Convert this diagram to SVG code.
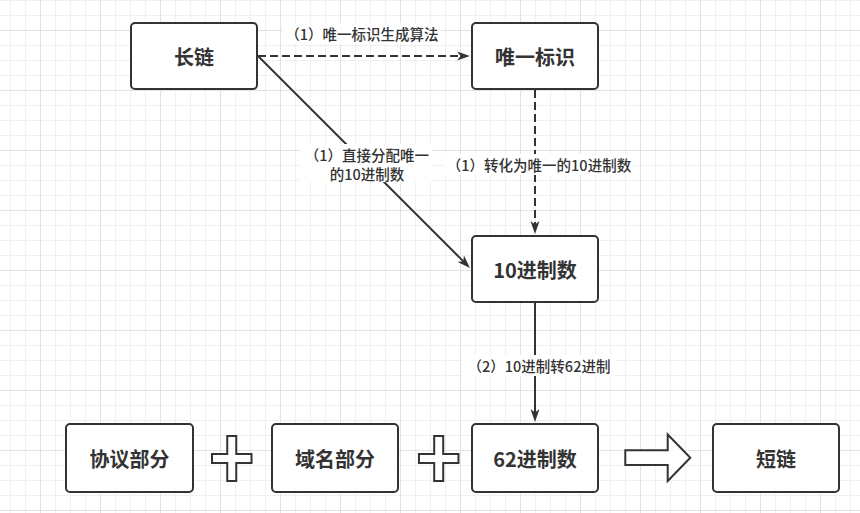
<svg xmlns="http://www.w3.org/2000/svg" width="860" height="513" viewBox="0 0 860 513">
  <style>
    .box { fill: #ffffff; stroke: #333333; stroke-width: 2; }
    .shape { fill: #ffffff; stroke: #333333; stroke-width: 2; stroke-linejoin: miter; }
    .ntext { font-family: "Noto Sans CJK SC", "Liberation Sans", sans-serif; font-size: 20px; font-weight: bold; fill: #333333; text-anchor: middle; dominant-baseline: central; }
    .ltext { font-family: "Noto Sans CJK SC", "Liberation Sans", sans-serif; font-size: 14.5px; font-weight: 500; fill: #333333; text-anchor: middle; dominant-baseline: central; }
    .edge { fill: none; stroke: #333333; stroke-width: 2; }
    .dashed { stroke-dasharray: 8 4; }
    .lbg { fill: #ffffff; }
  </style>
  <defs>
    <pattern id="minor" patternUnits="userSpaceOnUse" x="10" y="0" width="15" height="15">
      <rect x="0" y="0" width="1" height="15" fill="#f0f0f0"/>
      <rect x="0" y="0" width="15" height="1" fill="#f0f0f0"/>
    </pattern>
    <pattern id="major" patternUnits="userSpaceOnUse" x="40" y="30" width="60" height="60">
      <rect x="0" y="0" width="1" height="60" fill="#e2e2e2"/>
      <rect x="0" y="0" width="60" height="1" fill="#e2e2e2"/>
    </pattern>
    <marker id="arr" markerUnits="userSpaceOnUse" viewBox="-5 -6 16 12" markerWidth="16" markerHeight="12" refX="0" refY="0" orient="auto">
      <path d="M9,0 L-4,-4.5 L-0.5,0 L-4,4.5 Z" fill="#333333"/>
    </marker>
  </defs>

  <rect x="0" y="0" width="860" height="513" fill="#ffffff"/>
  <rect x="0" y="0" width="860" height="513" fill="url(#minor)"/>
  <rect x="0" y="0" width="860" height="513" fill="url(#major)"/>

  <g id="connectors">
    <path class="edge dashed" d="M258,56 L461,56" marker-end="url(#arr)"/>
    <path class="edge" d="M258,56 L463.6,261.6" marker-end="url(#arr)"/>
    <path class="edge dashed" d="M535,90 L535,225" marker-end="url(#arr)"/>
    <path class="edge" d="M535,303 L535,413" marker-end="url(#arr)"/>

    <g id="label-gen">
      <rect class="lbg" x="283" y="23" width="158" height="21"/>
      <text class="ltext" x="362" y="33">（1）唯一标识生成算法</text>
    </g>
    <g id="label-direct">
      <rect class="lbg" x="300" y="144" width="132" height="38"/>
      <text class="ltext" x="367" y="154">（1）直接分配唯一</text>
      <text class="ltext" x="367" y="173.5">的10进制数</text>
    </g>
    <g id="label-convert">
      <rect class="lbg" x="444" y="154" width="190" height="21"/>
      <text class="ltext" x="539" y="164">（1）转化为唯一的10进制数</text>
    </g>
    <g id="label-62">
      <rect class="lbg" x="462" y="355" width="153" height="21"/>
      <text class="ltext" x="539" y="365">（2）10进制转62进制</text>
    </g>
  </g>

  <g id="node-longlink">
    <rect class="box" x="131" y="23" width="126" height="66" rx="4"/>
    <text class="ntext" x="194" y="56">长链</text>
  </g>
  <g id="node-uid">
    <rect class="box" x="472" y="23" width="126" height="66" rx="4"/>
    <text class="ntext" x="535" y="56">唯一标识</text>
  </g>
  <g id="node-dec">
    <rect class="box" x="472" y="236" width="126" height="66" rx="4"/>
    <text class="ntext" x="535" y="269">10进制数</text>
  </g>
  <g id="node-protocol">
    <rect class="box" x="66" y="424" width="127" height="68" rx="4"/>
    <text class="ntext" x="129.5" y="458">协议部分</text>
  </g>
  <g id="plus-1">
    <path class="shape" transform="translate(231.75,458.5)" d="M-4.5,-22.5 H4.5 V-4.5 H19.75 V4.5 H4.5 V22.5 H-4.5 V4.5 H-19.75 V-4.5 H-4.5 Z"/>
  </g>
  <g id="node-domain">
    <rect class="box" x="272" y="424" width="126" height="68" rx="4"/>
    <text class="ntext" x="335" y="458">域名部分</text>
  </g>
  <g id="plus-2">
    <path class="shape" transform="translate(438.7,458.5)" d="M-4.5,-22.5 H4.5 V-4.5 H19.75 V4.5 H4.5 V22.5 H-4.5 V4.5 H-19.75 V-4.5 H-4.5 Z"/>
  </g>
  <g id="node-b62">
    <rect class="box" x="472" y="424" width="126" height="68" rx="4"/>
    <text class="ntext" x="535" y="458">62进制数</text>
  </g>
  <g id="block-arrow">
    <path class="shape" d="M625.3,450.3 H667.7 V434.5 L690.3,457.7 L667.7,481 V465 H625.3 Z"/>
  </g>
  <g id="node-short">
    <rect class="box" x="713" y="424" width="126" height="68" rx="4"/>
    <text class="ntext" x="776" y="458">短链</text>
  </g>
</svg>
